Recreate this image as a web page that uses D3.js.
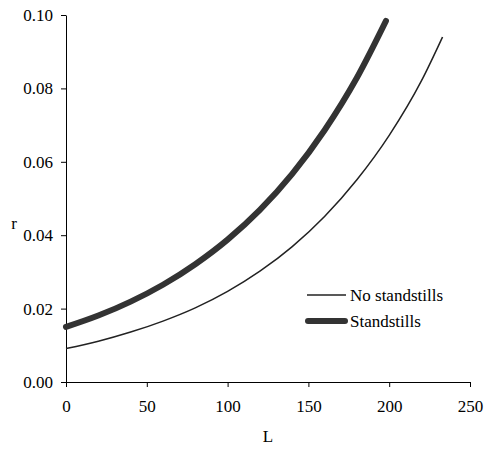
<!DOCTYPE html>
<html>
<head>
<meta charset="utf-8">
<script src="https://cdn.jsdelivr.net/npm/d3@7"></script>
<style>
  body { margin: 0; background: #fff; }
</style>
</head>
<body>
<svg id="chart" width="485" height="454"></svg>
<script>
// values
var lengthNoStand = [0, 20, 40, 60, 80, 100, 120, 140, 160, 180, 200, 220, 233]
var rateNoStand = [0.0091, 0.0111, 0.0136, 0.0166, 0.0202, 0.0247, 0.0302, 0.0369, 0.0451, 0.0551, 0.0672, 0.0821, 0.0940]

var lengthStand = [0, 20, 40, 60, 80, 100, 120, 140, 160, 180, 198]
var rateStand = [0.0150, 0.0181, 0.0219, 0.0265, 0.0321, 0.0388, 0.0469, 0.0567, 0.0686, 0.0829, 0.0984]

var xTicks = [0, 50, 100, 150, 200, 250]
var yTicks = [0, 0.02, 0.04, 0.06, 0.08, 0.10]
var seriesNames = ["No standstills", "Standstills"]

var fontFamily = "'Liberation Serif', 'Times New Roman', Times, 'DejaVu Serif', serif"

var svg = d3.select("#chart"),
    g = svg.append("g").attr("transform", "translate(66,15)")

var x = d3.scaleLinear().domain([0, 250]).range([0, 404])
var y = d3.scaleLinear().domain([0, 0.10]).range([367, 0])

g.append("g")
    .attr("transform", "translate(0,367)")
    .call(d3.axisBottom(x).tickValues(xTicks).tickSize(5).tickSizeOuter(0).tickPadding(13))
g.append("g")
    .call(d3.axisLeft(y).tickValues(yTicks).tickSize(5).tickSizeOuter(0).tickPadding(8).tickFormat(d3.format(".2f")))

svg.selectAll(".domain, .tick line").attr("stroke", "#000")

svg.append("text")
    .attr("x", 268)
    .attr("y", 442)
    .attr("text-anchor", "middle")
    .text("L")

svg.append("text")
    .attr("x", 14)
    .attr("y", 229)
    .attr("text-anchor", "middle")
    .text("r")

var line = d3.line()
    .x(function (d) { return x(d[0]) })
    .y(function (d) { return y(d[1]) })
    .curve(d3.curveMonotoneX)

g.append("path")
    .datum(d3.zip(lengthNoStand, rateNoStand))
    .attr("fill", "none")
    .attr("stroke", "#222")
    .attr("stroke-width", 1.5)
    .attr("d", line)

g.append("path")
    .datum(d3.zip(lengthStand, rateStand))
    .attr("fill", "none")
    .attr("stroke", "#333")
    .attr("stroke-width", 6)
    .attr("stroke-linecap", "round")
    .attr("d", line)

// legend
var legend = svg.append("g").attr("transform", "translate(306,295)")
legend.append("line")
    .attr("x1", 1).attr("x2", 40).attr("y1", 0).attr("y2", 0)
    .attr("stroke", "#222").attr("stroke-width", 1.5)
legend.append("text")
    .attr("x", 44).attr("y", 6)
    .text(seriesNames[0])
legend.append("line")
    .attr("x1", 2).attr("x2", 39).attr("y1", 26).attr("y2", 26)
    .attr("stroke", "#333").attr("stroke-width", 6).attr("stroke-linecap", "round")
legend.append("text")
    .attr("x", 44).attr("y", 32)
    .text(seriesNames[1])

svg.selectAll("text")
    .attr("font-family", fontFamily)
    .attr("font-size", 17)
    .attr("fill", "#000")
</script>
</body>
</html>
